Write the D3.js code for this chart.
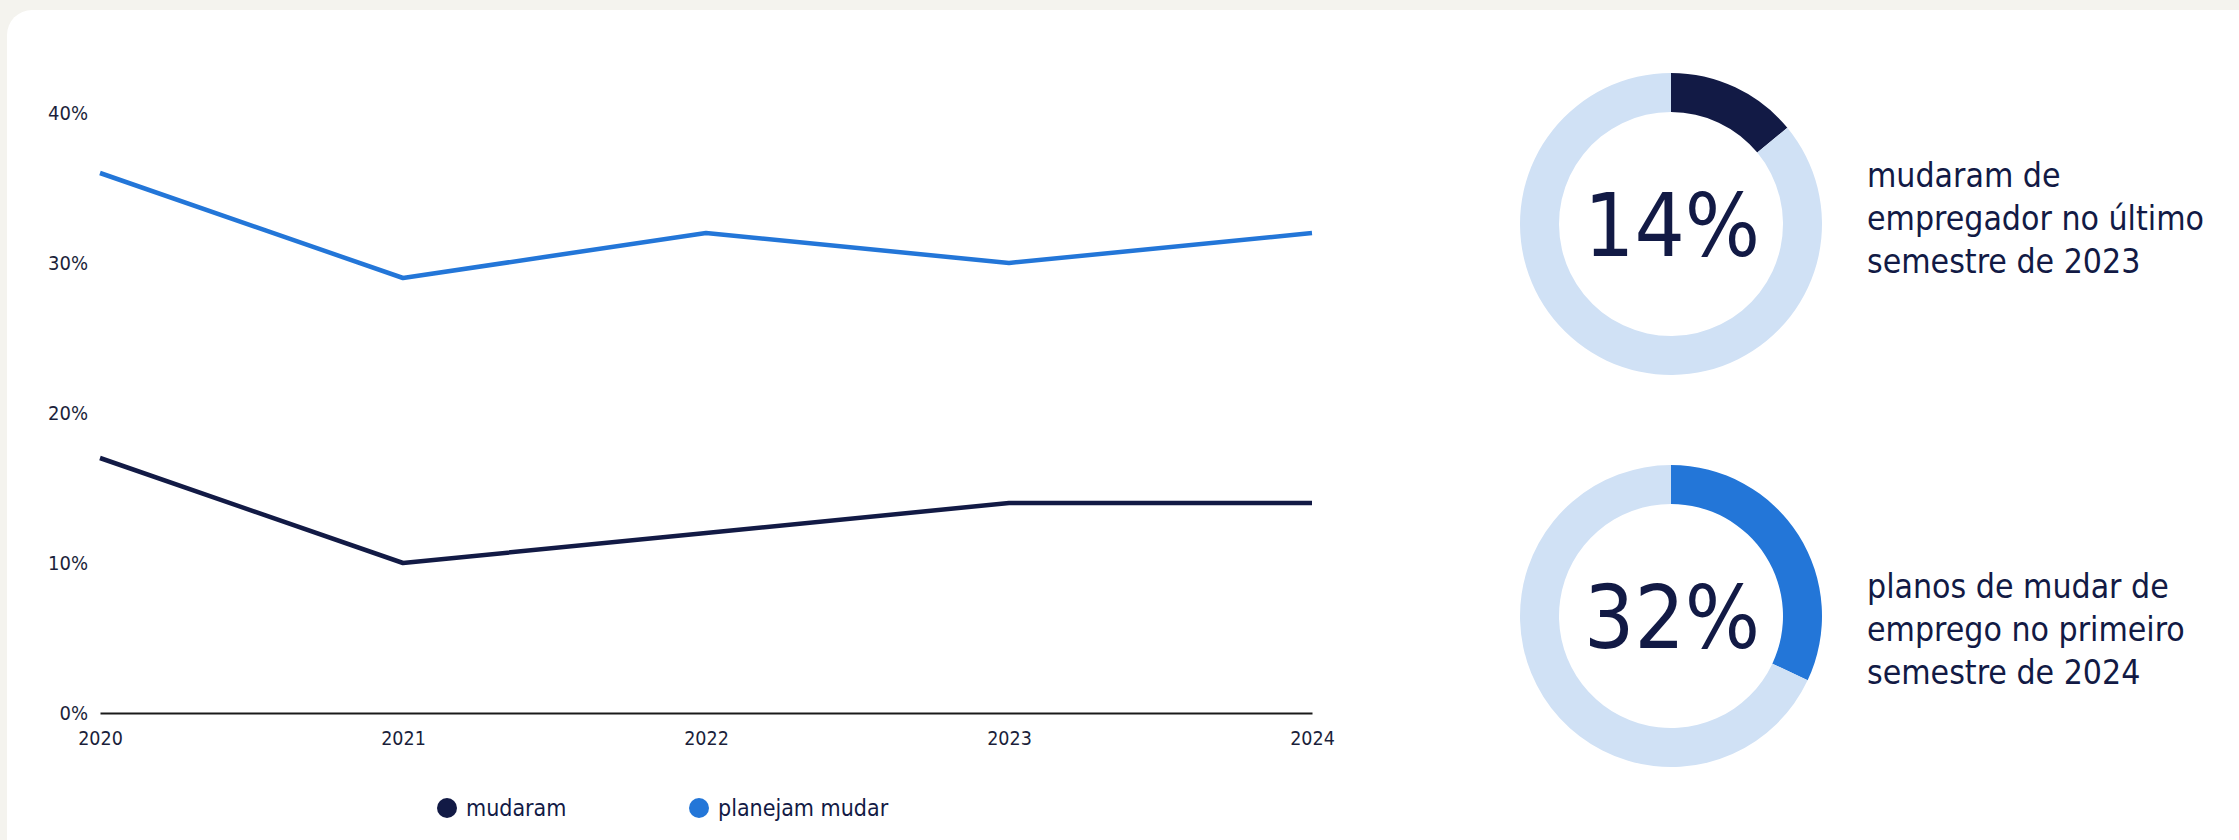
<!DOCTYPE html>
<html>
<head>
<meta charset="utf-8">
<script src="https://cdn.jsdelivr.net/npm/d3@7"></script>
<style>
  html, body { margin: 0; padding: 0; background: #f4f3ee; overflow: hidden; }
  svg { display: block; }
</style>
</head>
<body>
<svg id="chart" width="2239" height="840"></svg>
<script>
// ---- data ----
const years = [2020, 2021, 2022, 2023, 2024];
const mudaram = [17, 10, 12, 14, 14];
const planejamMudar = [36, 29, 32, 30, 32];
const yTicks = [0, 10, 20, 30, 40];
const seriesNames = ["mudaram", "planejam mudar"];
const donutValues = [14, 32];
const donutTexts = [
  ["mudaram de", "empregador no último", "semestre de 2023"],
  ["planos de mudar de", "emprego no primeiro", "semestre de 2024"]
];

// ---- styles ----
const NAVY = "#121a45";
const BLUE = "#2376d8";
const LIGHT = "#d0e1f5";
const TEXT = "#1b1f3b";
const FONT = "'DejaVu Sans Condensed', 'DejaVu Sans', sans-serif";

const svg = d3.select("#chart");

// card
svg.append("rect")
  .attr("x", 7).attr("y", 10)
  .attr("width", 2260).attr("height", 880)
  .attr("rx", 25).attr("ry", 25)
  .attr("fill", "#ffffff");

// ---- line chart ----
const x = d3.scaleLinear().domain([2020, 2024]).range([100, 1312]);
const y = d3.scaleLinear().domain([0, 40]).range([713, 113]);

const yAxis = d3.axisLeft(y).tickValues(yTicks).tickSize(0).tickPadding(12)
  .tickFormat(d => d + "%");
const gy = svg.append("g").attr("transform", `translate(${x.range()[0]},0)`).call(yAxis);
gy.select(".domain").remove();
gy.selectAll("text").attr("font-family", FONT).attr("font-size", 20).attr("fill", TEXT);

const xAxis = d3.axisBottom(x).tickValues(years).tickSize(0).tickSizeOuter(0).tickPadding(18)
  .tickFormat(d3.format("d"));
const gx = svg.append("g").attr("transform", `translate(0,${y(0)})`).call(xAxis);
gx.select(".domain").attr("stroke", "#1a1a1a").attr("stroke-width", 2);
gx.selectAll("text").attr("font-family", FONT).attr("font-size", 19.5).attr("fill", TEXT);

const line = d3.line().x((d, i) => x(years[i])).y(d => y(d));
svg.append("path").datum(mudaram)
  .attr("d", line).attr("fill", "none")
  .attr("stroke", NAVY).attr("stroke-width", 4.5).attr("stroke-linejoin", "round");
svg.append("path").datum(planejamMudar)
  .attr("d", line).attr("fill", "none")
  .attr("stroke", BLUE).attr("stroke-width", 4.5).attr("stroke-linejoin", "round");

// legend
const legendX = [447, 699];
const legendColors = [NAVY, BLUE];
const lg = svg.append("g");
seriesNames.forEach((name, i) => {
  lg.append("circle").attr("cx", legendX[i]).attr("cy", 808).attr("r", 10).attr("fill", legendColors[i]);
  lg.append("text").attr("x", legendX[i] + 19).attr("y", 816)
    .attr("font-family", FONT).attr("font-size", 23).attr("fill", NAVY).text(name);
});

// ---- donuts ----
const donutCX = 1671;
const donutCY = [224, 616];
const textFirstBaseline = [187, 598];
const donutColors = [NAVY, BLUE];
const pie = d3.pie().sort(null).value(d => d);
const arc = d3.arc().innerRadius(112).outerRadius(151);

donutValues.forEach((v, i) => {
  const g = svg.append("g").attr("transform", `translate(${donutCX},${donutCY[i]})`);
  g.selectAll("path").data(pie([v, 100 - v])).join("path")
    .attr("d", arc)
    .attr("fill", (d, j) => j === 0 ? donutColors[i] : LIGHT);
  g.append("text").attr("x", 1).attr("y", 32)
    .attr("text-anchor", "middle")
    .attr("font-family", FONT).attr("font-size", 88).attr("fill", NAVY)
    .text(v + "%");
  const t = svg.append("text")
    .attr("font-family", FONT).attr("font-size", 33.5).attr("fill", NAVY);
  donutTexts[i].forEach((s, k) => {
    t.append("tspan").attr("x", 1867).attr("y", textFirstBaseline[i] + k * 43).text(s);
  });
});
</script>
</body>
</html>
